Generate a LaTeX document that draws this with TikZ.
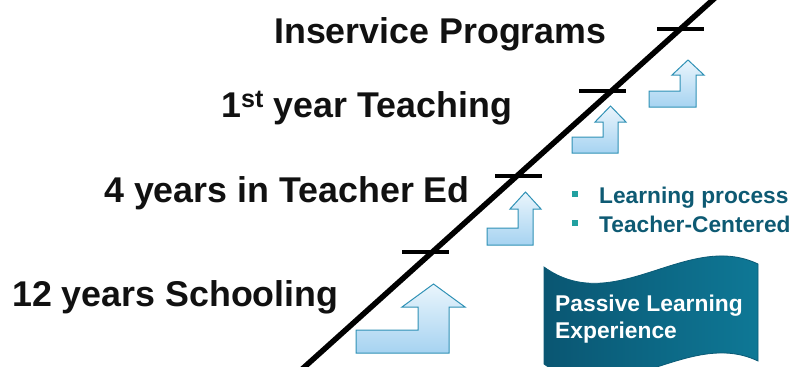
\documentclass[tikz,border=0pt]{standalone}
\usepackage{fontspec}
\setmainfont{Liberation Sans}
\definecolor{labcol}{HTML}{111111}
\definecolor{bulcol}{HTML}{0E5A73}
\definecolor{sqcol}{HTML}{22A0A0}
\definecolor{arrtop}{HTML}{EAF5FC}
\definecolor{arrbot}{HTML}{A6D3F1}
\definecolor{arredge}{HTML}{2F91B5}
\definecolor{banL}{HTML}{0A5672}
\definecolor{banR}{HTML}{0E7896}
\definecolor{banedge}{HTML}{0B5B76}
\begin{document}
\begin{tikzpicture}[x=1pt,y=-1pt,
  lab/.style={anchor=base west, inner sep=0pt, font=\fontsize{35.8}{40}\selectfont\bfseries, text=labcol},
  bul/.style={anchor=base west, inner sep=0pt, font=\fontsize{22.7}{26}\selectfont\bfseries, text=bulcol},
  bantext/.style={anchor=base west, inner sep=0pt, font=\fontsize{22.8}{26}\selectfont\bfseries, text=white},
  sq/.style={fill=sqcol, minimum size=6pt, inner sep=0pt, draw=none},
  tick/.style={line width=3.6pt, black},
  bigline/.style={line width=5.5pt, black},
  uparrow/.style={draw=arredge, line width=1pt, top color=arrtop, bottom color=arrbot, line join=miter}
]
\useasboundingbox (0,0) rectangle (796,367);
\clip (0,0) rectangle (796,367);

% diagonal line
\coordinate (lineS) at (300,371);
\coordinate (lineE) at (716,-3);
\draw[bigline] (lineS) -- (lineE);

% ticks
\coordinate (t1a) at (657,29);  \coordinate (t1b) at (704,29);
\coordinate (t2a) at (579,91);  \coordinate (t2b) at (626,91);
\coordinate (t3a) at (495,176); \coordinate (t3b) at (542,176);
\coordinate (t4a) at (402,252); \coordinate (t4b) at (449,252);
\draw[tick] (t1a) -- (t1b);
\draw[tick] (t2a) -- (t2b);
\draw[tick] (t3a) -- (t3b);
\draw[tick] (t4a) -- (t4b);

% bent-up arrows
\draw[uparrow] (356,353) -- (356,330) -- (418,330) -- (418,307) -- (402,307) -- (433.5,284) -- (465,307) -- (449,307) -- (449,353) -- cycle;
\draw[uparrow] (487,245) -- (487,228) -- (518,228) -- (518,209) -- (510,209) -- (525.5,192) -- (541,209) -- (533,209) -- (533,245) -- cycle;
\draw[uparrow] (572,153) -- (572,137) -- (603,137) -- (603,122) -- (595,122) -- (610.5,106) -- (626,122) -- (618,122) -- (618,153) -- cycle;
\draw[uparrow] (649,107) -- (649,91) -- (680,91) -- (680,75) -- (672,75) -- (688,60) -- (704,75) -- (696,75) -- (696,107) -- cycle;

% labels
\node[lab] (inservice) at (274,43) {Inservice Programs};
\node[lab] (first) at (221,117) {1\textsuperscript{st} year Teaching};
\node[lab] (teachered) at (104,202) {4 years in Teacher Ed};
\node[lab] (school) at (12,306) {12 years Schooling};

% bullets
\node[sq] (sq1) at (575,194) {};
\node[sq] (sq2) at (575,223) {};
\node[bul] (b1) at (599,203) {Learning process};
\node[bul] (b2) at (599,232) {Teacher-Centered};

% banner
\path[left color=banL, right color=banR, draw=banedge, line width=0.8pt]
  (544,267) .. controls (615,318) and (687,230) .. (758,264)
  -- (758,361) .. controls (687,327) and (615,415) .. (544,364) -- cycle;
\node[bantext] (ban1) at (555,311) {Passive Learning};
\node[bantext] (ban2) at (555,338) {Experience};
\end{tikzpicture}
\end{document}
